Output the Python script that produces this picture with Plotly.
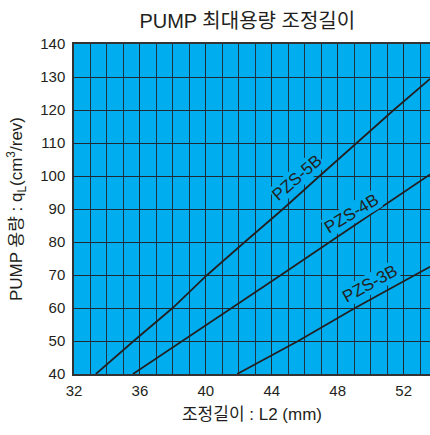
import plotly.graph_objects as go
import numpy as np

# Data: L2 (mm) vs q_L (cm3/rev)
pzs5b_L = [33.33, 35.62, 37.98, 40.08, 42.36, 44.68, 46.9, 49.15, 51.4, 53.6]
pzs5b_q = [40, 50, 60, 70, 80, 90, 100, 110, 120, 129.4]
pzs4b_L = [35.58, 38.59, 41.53, 44.56, 47.52, 50.5, 53.45, 53.6]
pzs4b_q = [40, 50, 60, 70, 80, 90, 100, 100.5]
pzs3b_L = [41.9, 45.6, 49.05, 52.65, 53.6]
pzs3b_q = [40, 50, 60, 70, 72.5]

series_names = ["PZS-5B", "PZS-4B", "PZS-3B"]
label_L = [46.1, 49.2, 50.4]
label_angle = [-41, -31, -29]
label_shift = [14, 11, 14]

x_ticks = [32, 36, 40, 44, 48, 52]
y_ticks = [40, 50, 60, 70, 80, 90, 100, 110, 120, 130, 140]

BG = "#00ADEF"
LINE = "#231f20"
FONT = "Liberation Sans, Noto Sans CJK KR, sans-serif"

fig = go.Figure()
series = [(pzs5b_L, pzs5b_q), (pzs4b_L, pzs4b_q), (pzs3b_L, pzs3b_q)]
for (xs, ys), name in zip(series, series_names):
    fig.add_trace(go.Scatter(x=xs, y=ys, mode="lines", name=name,
                             line=dict(color=LINE, width=1.7), showlegend=False,
                             hoverinfo="skip"))

for (xs, ys), name, lx, ang, sh in zip(series, series_names, label_L, label_angle, label_shift):
    ly = float(np.interp(lx, xs, ys))
    rad = np.deg2rad(-ang)
    fig.add_annotation(x=lx, y=ly, xref="x", yref="y", text=name, showarrow=False,
                       textangle=ang, bgcolor=BG, borderpad=0,
                       xshift=-sh * np.sin(rad), yshift=sh * np.cos(rad),
                       font=dict(size=17, color=LINE, family=FONT))

fig.update_layout(
    width=430, height=435,
    margin=dict(l=74, r=0, t=44, b=61, autoexpand=False),
    paper_bgcolor="white", plot_bgcolor=BG,
    font=dict(family=FONT, color="#231f20", size=14),
    title=dict(text="PUMP 최대용량 조정길이", x=0.575, xanchor="center", y=0.952, yanchor="middle",
               font=dict(size=20, family=FONT, color="#231f20")),
)
fig.update_xaxes(range=[32, 53.6], tickvals=x_ticks, ticks="", showgrid=True,
                 gridcolor="#1e2a30", gridwidth=1.3, automargin=False,
                 minor=dict(dtick=1, tick0=32, showgrid=True, gridcolor="#1e3440", gridwidth=1.3),
                 showline=True, linecolor="#333", linewidth=1.5, mirror=True,
                 zeroline=False, tickfont=dict(size=15), ticklabelstandoff=2,
                 title=dict(text="조정길이 : L2 (mm)", font=dict(size=17), standoff=10))
fig.update_yaxes(range=[40, 140], tickvals=y_ticks, ticks="", showgrid=True,
                 gridcolor="#1e2a30", gridwidth=1.3, automargin=False,
                 showline=True, linecolor="#333", linewidth=1.5, mirror=True,
                 zeroline=False, tickfont=dict(size=15), ticklabelstandoff=4,
                 title=dict(text="PUMP 용량 : q<sub>L</sub>(cm<sup>3</sup>/rev)", font=dict(size=17), standoff=13))

fig.write_html("out.html", config={"displayModeBar": False},
               post_script="document.body.style.margin='0';document.body.style.overflow='hidden';")
